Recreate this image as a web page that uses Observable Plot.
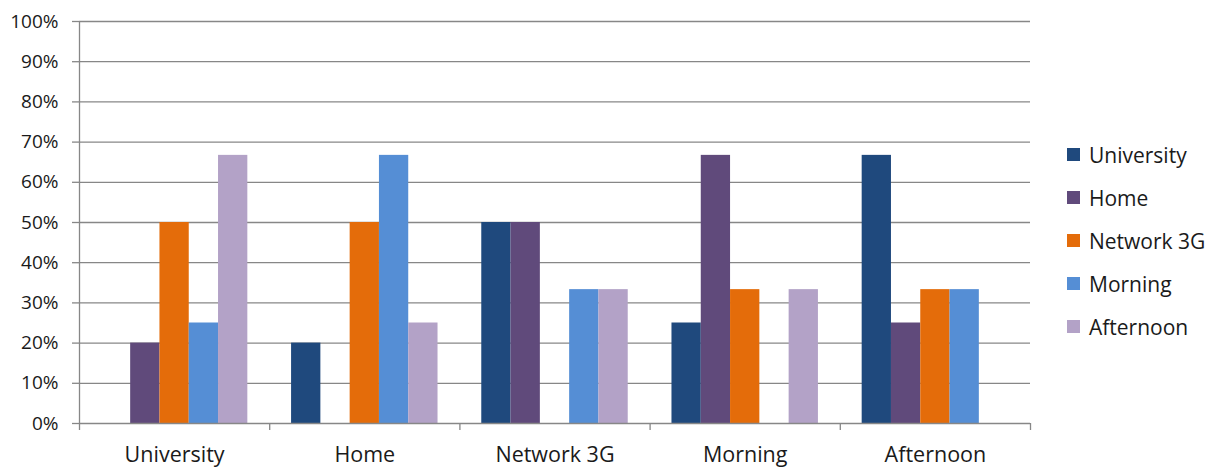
<!DOCTYPE html>
<html>
<head>
<meta charset="utf-8">
<script src="https://cdn.jsdelivr.net/npm/d3@7"></script>
<script src="https://cdn.jsdelivr.net/npm/@observablehq/plot@0.6"></script>
<style>
  html, body { margin: 0; padding: 0; background: #fff; overflow: hidden; }
  #wrap { position: relative; width: 1207px; height: 468px; font-family: "Open Sans", sans-serif; }
  #legend { position: absolute; left: 1067px; top: 133px; width: 140px; }
  .item { display: flex; align-items: center; height: 43px; font-size: 21px; color: #1a1a1a; white-space: nowrap; }
  .sw { width: 13px; height: 13px; margin-right: 9px; flex: none; }
</style>
</head>
<body>
<div id="wrap"><div id="legend"></div></div>
<script>
// Categories on the x axis
const categories = ["University", "Home", "Network 3G", "Morning", "Afternoon"];
// Series (legend order)
const series = ["University", "Home", "Network 3G", "Morning", "Afternoon"];
const colors = ["#1F497D", "#604A7B", "#E46C0A", "#558ED5", "#B3A2C7"];
// Series values, one per category (fraction)
const universityValues = [0, 0.20, 0.50, 0.25, 0.667];
const homeValues       = [0.20, 0, 0.50, 0.667, 0.25];
const network3GValues  = [0.50, 0.50, 0, 0.333, 0.333];
const morningValues    = [0.25, 0.667, 0.333, 0, 0.333];
const afternoonValues  = [0.667, 0.25, 0.333, 0.333, 0];
const yTicks = [0, 0.1, 0.2, 0.3, 0.4, 0.5, 0.6, 0.7, 0.8, 0.9, 1.0];

const seriesValues = [universityValues, homeValues, network3GValues, morningValues, afternoonValues];

// Grouped (dodged) layout within each category slot [i, i+1]
const groupPad = 0.115;
const barW = (1 - 2 * groupPad) / series.length;
const rows = [];
categories.forEach((c, i) => {
  series.forEach((s, j) => {
    const v = seriesValues[j][i];
    if (v > 0) rows.push({category: c, series: s, value: v,
      x1: i + groupPad + j * barW, x2: i + groupPad + (j + 1) * barW});
  });
});
const labelRows = categories.map((c, i) => ({category: c, x: i + 0.5}));
const boundaries = d3.range(categories.length + 1);

const gridColor = "#878787";
const chart = Plot.plot({
  width: 1207,
  height: 468,
  marginLeft: 79,
  marginRight: 177,
  marginTop: 21,
  marginBottom: 45,
  style: {fontFamily: "Open Sans, sans-serif", color: "#1a1a1a", background: "#fff"},
  x: {type: "linear", domain: [0, categories.length], axis: null},
  y: {domain: [0, 1], axis: null},
  color: {domain: series, range: colors},
  marks: [
    Plot.gridY(yTicks.slice(1), {stroke: gridColor, strokeOpacity: 1, strokeWidth: 1.3}),
    Plot.axisY(yTicks, {tickFormat: d3.format(".0%"), tickSize: 7, tickPadding: 14,
      fontSize: 19, stroke: gridColor, strokeWidth: 1.3, fill: "#1a1a1a", label: null}),
    Plot.axisX(boundaries, {tickSize: 7, tickFormat: () => "", stroke: gridColor, strokeWidth: 1.3, label: null}),
    Plot.rectY(rows, {x1: "x1", x2: "x2", y1: 0, y2: "value", fill: "series"}),
    Plot.ruleY([0], {stroke: gridColor, strokeWidth: 1.3}),
    Plot.ruleX([0], {stroke: gridColor, strokeWidth: 1.3}),
    Plot.text(labelRows, {x: "x", y: 0, text: "category", dy: 32, fontSize: 21.5, fill: "#1a1a1a"})
  ]
});
document.getElementById("wrap").prepend(chart);

const legend = document.getElementById("legend");
series.forEach((s, j) => {
  const item = document.createElement("div");
  item.className = "item";
  const sw = document.createElement("div");
  sw.className = "sw";
  sw.style.background = colors[j];
  const t = document.createElement("span");
  t.textContent = s;
  item.append(sw, t);
  legend.append(item);
});
</script>
</body>
</html>
